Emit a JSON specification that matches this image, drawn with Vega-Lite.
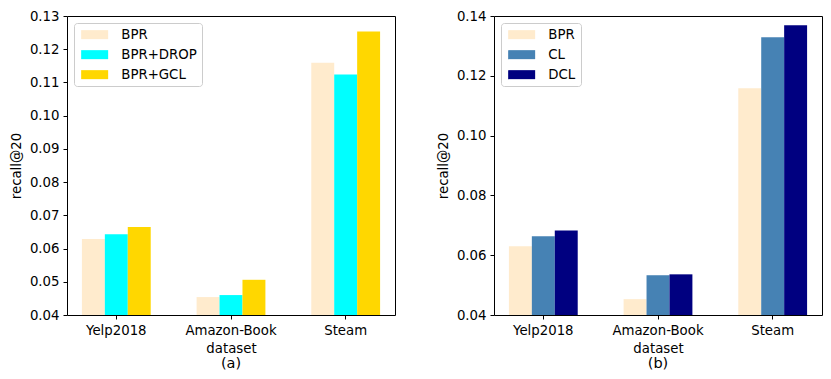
{
  "$schema": "https://vega.github.io/schema/vega-lite/v6.json",
  "padding": {"left": 8, "top": 8, "right": 0, "bottom": 0},
  "background": "white",
  "config": {
    "font": "DejaVu Sans",
    "view": {"stroke": "black", "strokeWidth": 1},
    "axis": {"labelFont": "DejaVu Sans", "titleFont": "DejaVu Sans", "labelFontSize": 13.3, "titleFontSize": 13.3, "titleFontWeight": "normal", "labelColor": "black", "titleColor": "black", "tickColor": "black", "grid": false, "domain": false, "tickSize": 4, "labelPadding": 4},
    "legend": {"labelFont": "DejaVu Sans", "labelFontSize": 13.3, "labelColor": "black"},
    "title": {"font": "DejaVu Sans", "fontSize": 14.5, "fontWeight": "normal", "color": "black"},
    "concat": {"spacing": 39}
  },
  "data": {"values": [
    {"panel": "a", "dataset": "Yelp2018", "method": "BPR", "value": 0.0629},
    {"panel": "a", "dataset": "Yelp2018", "method": "BPR+DROP", "value": 0.0643},
    {"panel": "a", "dataset": "Yelp2018", "method": "BPR+GCL", "value": 0.0665},
    {"panel": "a", "dataset": "Amazon-Book", "method": "BPR", "value": 0.0454},
    {"panel": "a", "dataset": "Amazon-Book", "method": "BPR+DROP", "value": 0.0460},
    {"panel": "a", "dataset": "Amazon-Book", "method": "BPR+GCL", "value": 0.0506},
    {"panel": "a", "dataset": "Steam", "method": "BPR", "value": 0.1159},
    {"panel": "a", "dataset": "Steam", "method": "BPR+DROP", "value": 0.1124},
    {"panel": "a", "dataset": "Steam", "method": "BPR+GCL", "value": 0.1253},
    {"panel": "b", "dataset": "Yelp2018", "method": "BPR", "value": 0.0630},
    {"panel": "b", "dataset": "Yelp2018", "method": "CL", "value": 0.0663},
    {"panel": "b", "dataset": "Yelp2018", "method": "DCL", "value": 0.0683},
    {"panel": "b", "dataset": "Amazon-Book", "method": "BPR", "value": 0.0453},
    {"panel": "b", "dataset": "Amazon-Book", "method": "CL", "value": 0.0533},
    {"panel": "b", "dataset": "Amazon-Book", "method": "DCL", "value": 0.0536},
    {"panel": "b", "dataset": "Steam", "method": "BPR", "value": 0.1158},
    {"panel": "b", "dataset": "Steam", "method": "CL", "value": 0.1329},
    {"panel": "b", "dataset": "Steam", "method": "DCL", "value": 0.1369}
  ]},
  "hconcat": [
    {
      "width": 328, "height": 299,
      "title": {"text": "(a)", "orient": "bottom", "offset": 2},
      "transform": [{"filter": "datum.panel === 'a'"}],
      "mark": {"type": "bar", "width": {"band": 1}},
      "encoding": {
        "x": {"field": "dataset", "type": "nominal", "sort": ["Yelp2018", "Amazon-Book", "Steam"], "title": "dataset",
              "scale": {"paddingInner": 0.4, "paddingOuter": 0.13},
              "axis": {"labelAngle": 0, "titlePadding": 5}},
        "xOffset": {"field": "method", "type": "nominal", "sort": ["BPR", "BPR+DROP", "BPR+GCL"], "scale": {"paddingInner": 0, "paddingOuter": 0}},
        "y": {"field": "value", "type": "quantitative", "title": "recall@20",
              "scale": {"domain": [0.04, 0.13], "nice": false, "zero": false},
              "axis": {"values": [0.04, 0.05, 0.06, 0.07, 0.08, 0.09, 0.10, 0.11, 0.12, 0.13], "format": ".2f", "titlePadding": 6}},
        "y2": {"datum": 0.04},
        "color": {"field": "method", "type": "nominal",
                  "scale": {"domain": ["BPR", "BPR+DROP", "BPR+GCL"], "range": ["#FFEBCD", "#00FFFF", "#FFD700"]},
                  "legend": {"title": null, "orient": "top-left", "offset": 7, "padding": 5, "rowPadding": 6, "labelOffset": 29,
                             "symbolType": "M-1,-1L5,-1L5,1L-1,1Z", "symbolSize": 81, "symbolStrokeWidth": 0, "symbolOpacity": 1,
                             "fillColor": "white", "strokeColor": "#cccccc", "cornerRadius": 3}}
      }
    },
    {
      "width": 328, "height": 299,
      "title": {"text": "(b)", "orient": "bottom", "offset": 2},
      "transform": [{"filter": "datum.panel === 'b'"}],
      "mark": {"type": "bar", "width": {"band": 1}},
      "encoding": {
        "x": {"field": "dataset", "type": "nominal", "sort": ["Yelp2018", "Amazon-Book", "Steam"], "title": "dataset",
              "scale": {"paddingInner": 0.4, "paddingOuter": 0.13},
              "axis": {"labelAngle": 0, "titlePadding": 5}},
        "xOffset": {"field": "method", "type": "nominal", "sort": ["BPR", "CL", "DCL"], "scale": {"paddingInner": 0, "paddingOuter": 0}},
        "y": {"field": "value", "type": "quantitative", "title": "recall@20",
              "scale": {"domain": [0.04, 0.14], "nice": false, "zero": false},
              "axis": {"values": [0.04, 0.06, 0.08, 0.10, 0.12, 0.14], "format": ".2f", "titlePadding": 6}},
        "y2": {"datum": 0.04},
        "color": {"field": "method", "type": "nominal",
                  "scale": {"domain": ["BPR", "CL", "DCL"], "range": ["#FFEBCD", "#4682B4", "#000080"]},
                  "legend": {"title": null, "orient": "top-left", "offset": 7, "padding": 5, "rowPadding": 6, "labelOffset": 29,
                             "symbolType": "M-1,-1L5,-1L5,1L-1,1Z", "symbolSize": 81, "symbolStrokeWidth": 0, "symbolOpacity": 1,
                             "fillColor": "white", "strokeColor": "#cccccc", "cornerRadius": 3}}
      }
    }
  ],
  "resolve": {"scale": {"color": "independent", "y": "independent", "x": "independent", "xOffset": "independent"}, "legend": {"color": "independent"}}
}
